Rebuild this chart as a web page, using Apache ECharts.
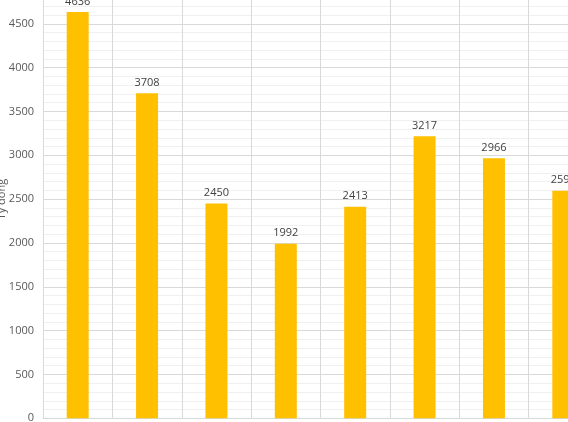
<!DOCTYPE html>
<html>
<head>
<meta charset="utf-8">
<script src="https://cdn.jsdelivr.net/npm/echarts@6/dist/echarts.min.js"></script>
<style>
html,body{margin:0;padding:0;background:#fff;}
#chart{width:568px;height:422px;}
</style>
</head>
<body>
<div id="chart"></div>
<script>
var categories = ["1", "2", "3", "4", "5", "6", "7", "8"];
var values = [4636, 3708, 2450, 1992, 2413, 3217, 2966, 2595];
var yTicks = {min: 0, max: 5000, interval: 500};
var yName = "Tỷ đồng";

var chart = echarts.init(document.getElementById('chart'), null, {renderer: 'canvas'});
var font = "'Open Sans', sans-serif";
chart.setOption({
  animation: false,
  backgroundColor: '#ffffff',
  grid: {left: 43, top: -20, width: 555, height: 438.3, containLabel: false, outerBoundsMode: 'none'},
  xAxis: {
    type: 'category',
    data: categories,
    boundaryGap: true,
    axisLine: {show: true, lineStyle: {color: '#d9d9d9', width: 1}},
    axisTick: {show: false},
    axisLabel: {show: false},
    splitLine: {show: true, lineStyle: {color: '#d9d9d9', width: 1}}
  },
  yAxis: {
    type: 'value',
    min: yTicks.min, max: yTicks.max, interval: yTicks.interval,
    name: yName,
    nameLocation: 'middle',
    nameGap: 36,
    nameRotate: 90,
    nameMoveOverlap: false,
    nameTextStyle: {color: '#595959', fontSize: 11, fontFamily: font},
    axisLine: {show: false},
    axisTick: {show: false},
    axisLabel: {color: '#595959', fontSize: 11, fontFamily: font, margin: 9, formatter: function (v) { return String(v); }},
    splitLine: {show: true, lineStyle: {color: '#d9d9d9', width: 1}},
    minorTick: {show: false, splitNumber: 5},
    minorSplitLine: {show: true, lineStyle: {color: '#f0f0f0', width: 1}}
  },
  series: [{
    type: 'bar',
    data: values,
    barWidth: '31.7%',
    itemStyle: {color: '#FFC000'},
    label: {show: true, position: 'top', distance: 5, color: '#404040', fontSize: 11, fontFamily: font}
  }]
});
</script>
</body>
</html>
